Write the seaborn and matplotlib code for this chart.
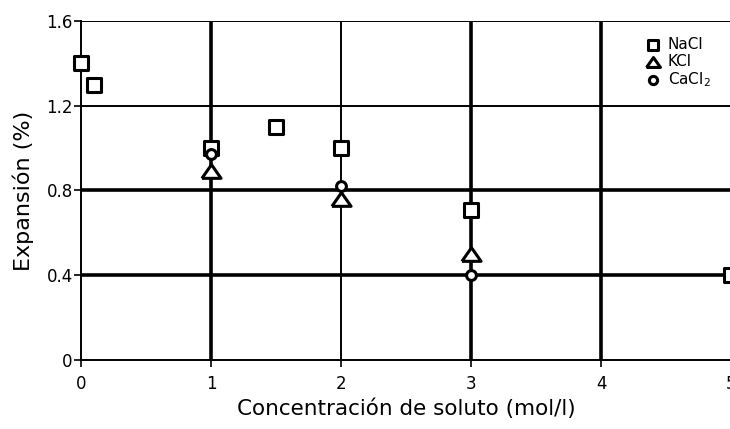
import numpy as np
import pandas as pd
import matplotlib
matplotlib.use("Agg")
import matplotlib.pyplot as plt
import seaborn as sns

# data
nacl_x = [0.0, 0.1, 1.0, 1.5, 2.0, 3.0, 5.0]
nacl_y = [1.40, 1.30, 1.00, 1.10, 1.00, 0.71, 0.40]
kcl_x = [1.0, 2.0, 3.0]
kcl_y = [0.89, 0.76, 0.50]
cacl2_x = [1.0, 2.0, 3.0]
cacl2_y = [0.97, 0.82, 0.40]

salt_labels = ["NaCl", "KCl", "CaCl$_2$"]
x_ticks = [0, 1, 2, 3, 4, 5]
y_ticks = [0, 0.4, 0.8, 1.2, 1.6]
y_tick_labels = ["0", "0.4", "0.8", "1.2", "1.6"]

df = pd.concat([
    pd.DataFrame({"conc": nacl_x, "exp": nacl_y, "salt": salt_labels[0]}),
    pd.DataFrame({"conc": kcl_x, "exp": kcl_y, "salt": salt_labels[1]}),
    pd.DataFrame({"conc": cacl2_x, "exp": cacl2_y, "salt": salt_labels[2]}),
], ignore_index=True)

sns.set_style("white")
plt.rcParams["font.family"] = ["DejaVu Sans"]
plt.rcParams["text.color"] = "black"
plt.rcParams["axes.labelcolor"] = "black"

fig = plt.figure(figsize=(7.3, 4.29), dpi=100)
ax = fig.add_axes([0.111, 0.161, 0.8905, 0.790])

# grid: some lines heavy, some light (as in the original)
for x in [1, 3, 4]:
    ax.axvline(x, color="black", lw=2.6, zorder=1)
for x in [2]:
    ax.axvline(x, color="black", lw=1.4, zorder=1)
for y in [0.4, 0.8]:
    ax.axhline(y, color="black", lw=2.6, zorder=1)
for y in [1.2, 1.6]:
    ax.axhline(y, color="black", lw=1.4, zorder=1)

# wide, flat triangle like the original
tri = [(-1.4, -1.0), (1.4, -1.0), (0.0, 1.0), (-1.4, -1.0)]
markers = {salt_labels[0]: "s", salt_labels[1]: tri, salt_labels[2]: "o"}
sizes = {salt_labels[0]: 88, salt_labels[1]: 190, salt_labels[2]: 50}
leg_sizes = {salt_labels[0]: 50, salt_labels[1]: 100, salt_labels[2]: 35}
for salt in salt_labels:
    sub = df[df["salt"] == salt]
    sns.scatterplot(data=sub, x="conc", y="exp", marker=markers[salt],
                    s=sizes[salt], color="white", edgecolor="black",
                    linewidth=2.2, label=salt, ax=ax, zorder=3, clip_on=False)

ax.set_xlim(0, 5)
ax.set_ylim(0, 1.6)
ax.set_xticks(x_ticks)
ax.set_yticks(y_ticks)
ax.set_yticklabels(y_tick_labels)
ax.tick_params(axis="both", direction="out", length=5, width=1.2,
               colors="black", labelsize=12, bottom=True, left=True)
ax.tick_params(axis="x", pad=6)
ax.tick_params(axis="y", pad=1)

for side in ["top", "right"]:
    ax.spines[side].set_visible(False)
for side in ["left", "bottom"]:
    ax.spines[side].set_color("black")
    ax.spines[side].set_linewidth(1.4)

ax.set_xlabel("Concentración de soluto (mol/l)", fontsize=15.5, labelpad=4)
ax.set_ylabel("Expansión (%)", fontsize=16, labelpad=9)

leg = ax.legend(loc="upper right", bbox_to_anchor=(0.985, 0.985), frameon=False,
                fontsize=11, handletextpad=0.5, labelspacing=0.12,
                borderpad=0.2, handlelength=1.0)
for h, salt in zip(leg.legend_handles, salt_labels):
    h.set_edgecolor("black")
    h.set_facecolor("white")
    h.set_linewidth(2.2)
    h.set_sizes([leg_sizes[salt]])

fig.savefig("out.png", dpi=100)
